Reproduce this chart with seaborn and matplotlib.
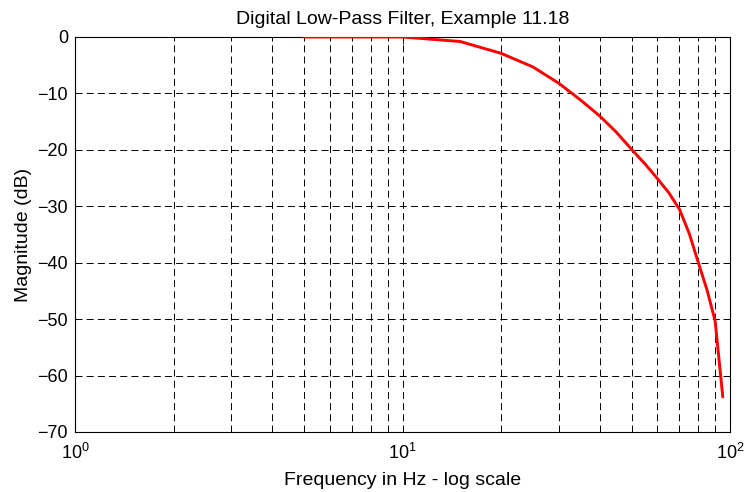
import numpy as np
import pandas as pd
import seaborn as sns
from matplotlib import pyplot as plt
from matplotlib.ticker import LogLocator, NullFormatter

# frequency (Hz) and magnitude (dB)
freq = [5, 10, 15, 20, 25, 30, 35, 40, 45, 50, 55, 60, 65, 70, 75, 80, 85, 90, 95]
mag_db = [0, 0, -0.8, -2.9, -5.3, -8.2, -11.2, -14.0, -16.9, -19.9, -22.5, -25.1,
          -27.6, -30.5, -34.8, -40.0, -44.8, -50.3, -63.8]

df = pd.DataFrame({'Frequency': freq, 'Magnitude': mag_db})

sns.set_style("white")
plt.rcParams['font.family'] = ['Liberation Sans', 'DejaVu Sans']
plt.rcParams['mathtext.fontset'] = 'custom'
plt.rcParams['mathtext.rm'] = 'Liberation Sans'
plt.rcParams['mathtext.it'] = 'Liberation Sans'
plt.rcParams['text.color'] = 'black'
plt.rcParams['axes.labelcolor'] = 'black'

fig = plt.figure(figsize=(7.45, 4.92), dpi=100)
ax = fig.add_axes([0.1007, 0.122, 0.8793, 0.8028])

sns.lineplot(data=df, x='Frequency', y='Magnitude', color='red', linewidth=2.1, ax=ax, zorder=3)

ax.set_xscale('log')
ax.set_xlim(1, 100)
ax.set_ylim(-70, 0)
ax.set_yticks(np.arange(-70, 1, 10))
ax.xaxis.set_major_locator(LogLocator(base=10, numticks=10))
ax.xaxis.set_minor_locator(LogLocator(base=10, subs=np.arange(2, 10), numticks=20))
ax.xaxis.set_minor_formatter(NullFormatter())

dash = (0, (7.2, 4.3))
ax.grid(True, which='major', color='black', linestyle=dash, linewidth=0.7)
ax.grid(True, which='minor', axis='x', color='black', linestyle=dash, linewidth=0.7)

ax.tick_params(which='both', direction='in', top=True, right=True, labelsize=13,
               colors='black', labelcolor='black')
ax.tick_params(which='major', length=5, width=0.6)
ax.tick_params(which='minor', length=3, width=0.6)
ax.tick_params(axis='y', pad=5)
ax.tick_params(axis='x', pad=8)
for s in ax.spines.values():
    s.set_color('black')
    s.set_linewidth(0.8)

ax.set_title('Digital Low-Pass Filter, Example 11.18', fontsize=14, pad=9, color='black')
ax.set_xlabel('Frequency in Hz - log scale', fontsize=14, labelpad=6)
ax.set_ylabel('Magnitude (dB)', fontsize=14, labelpad=4)

fig.savefig('out.png', dpi=100)
